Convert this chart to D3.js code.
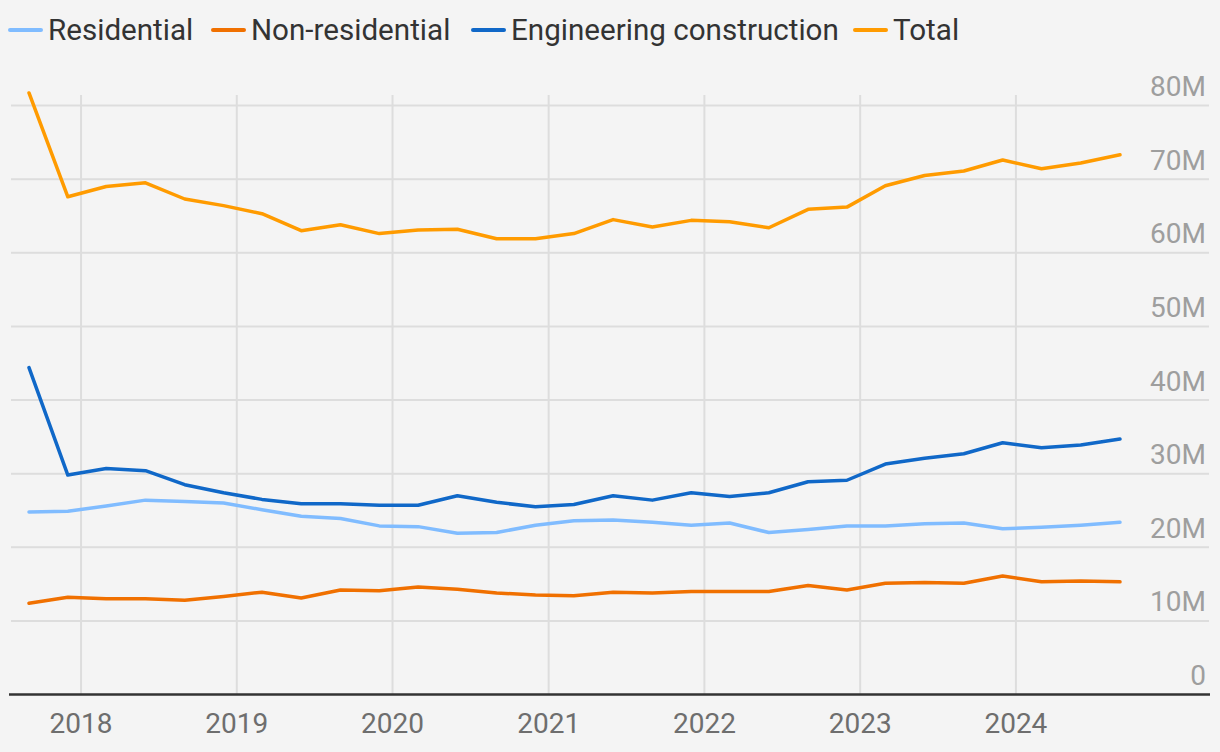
<!DOCTYPE html>
<html>
<head>
<meta charset="utf-8">
<script src="https://cdn.jsdelivr.net/npm/d3@7"></script>
<style>
  html, body { margin: 0; padding: 0; background: #f4f4f4; }
  svg { display: block; font-family: Roboto, "Noto Sans", sans-serif; }
</style>
</head>
<body>
<svg id="chart" width="1220" height="752"></svg>
<script>
// ---- data ----
const periods = ["2017-09","2017-12","2018-03","2018-06","2018-09","2018-12","2019-03","2019-06","2019-09","2019-12",
  "2020-03","2020-06","2020-09","2020-12","2021-03","2021-06","2021-09","2021-12","2022-03","2022-06",
  "2022-09","2022-12","2023-03","2023-06","2023-09","2023-12","2024-03","2024-06","2024-09"];
const residential = [24.8,24.9,25.6,26.4,26.2,26.0,25.1,24.2,23.9,22.9,22.8,21.9,22.0,23.0,23.6,23.7,23.4,23.0,23.3,22.0,
  22.4,22.9,22.9,23.2,23.3,22.5,22.7,23.0,23.4];
const nonResidential = [12.4,13.2,13.0,13.0,12.8,13.3,13.9,13.1,14.2,14.1,14.6,14.3,13.8,13.5,13.4,13.9,13.8,14.0,14.0,14.0,
  14.8,14.2,15.1,15.2,15.1,16.1,15.3,15.4,15.3];
const engineering = [44.4,29.8,30.7,30.4,28.5,27.4,26.5,25.9,25.9,25.7,25.7,27.0,26.1,25.5,25.8,27.0,26.4,27.4,26.9,27.4,
  28.9,29.1,31.3,32.1,32.7,34.2,33.5,33.9,34.7];
const total = [81.7,67.6,69.0,69.5,67.3,66.4,65.3,63.0,63.8,62.6,63.1,63.2,61.9,61.9,62.6,64.5,63.5,64.4,64.2,63.4,
  65.9,66.2,69.1,70.5,71.1,72.6,71.4,72.2,73.3];
const seriesNames = ["Residential","Non-residential","Engineering construction","Total"];
const seriesColors = ["#80bcff","#f07000","#1068c8","#ff9b00"];
const yTicks = [0,10,20,30,40,50,60,70,80];
const yTickLabels = ["0","10M","20M","30M","40M","50M","60M","70M","80M"];
const xTickYears = ["2018","2019","2020","2021","2022","2023","2024"];

// ---- chart ----
const svg = d3.select("#chart");
const parse = d3.timeParse("%Y-%m");
const dates = periods.map(parse);
const x = d3.scaleTime().domain([dates[0], dates[dates.length-1]]).range([29, 1120]);
const y = d3.scaleLinear().domain([0, 80]).range([694.5, 105.5]);
const FONT = 28;
const LEGEND_FONT = 29.6;

// horizontal gridlines
svg.append("g").selectAll("line").data(yTicks.filter(d => d > 0)).join("line")
  .attr("x1", 11).attr("x2", 1209)
  .attr("y1", d => y(d)).attr("y2", d => y(d))
  .attr("stroke", "#dddddd").attr("stroke-width", 2);

// vertical gridlines
const yearDates = xTickYears.map(s => d3.timeParse("%Y")(s));
svg.append("g").selectAll("line").data(yearDates).join("line")
  .attr("x1", d => x(d)).attr("x2", d => x(d))
  .attr("y1", 95).attr("y2", 694)
  .attr("stroke", "#dddddd").attr("stroke-width", 2);

// y labels
svg.append("g").selectAll("text").data(yTicks).join("text")
  .attr("x", 1206).attr("y", d => y(d) - 9.5)
  .attr("text-anchor", "end")
  .attr("fill", "#9e9e9e").attr("font-size", FONT)
  .text((d, i) => yTickLabels[i]);

// x labels
svg.append("g").selectAll("text").data(yearDates).join("text")
  .attr("x", d => x(d)).attr("y", 733)
  .attr("text-anchor", "middle")
  .attr("fill", "#6e6e6e").attr("font-size", FONT)
  .text((d, i) => xTickYears[i]);

// baseline
svg.append("line").attr("x1", 9).attr("x2", 1210)
  .attr("y1", y(0)).attr("y2", y(0))
  .attr("stroke", "#333333").attr("stroke-width", 2.5);

// lines
const allSeries = [residential, nonResidential, engineering, total];
const line = d3.line().x((d, i) => x(dates[i])).y(d => y(d));
svg.append("g").selectAll("path").data(allSeries).join("path")
  .attr("d", d => line(d))
  .attr("fill", "none")
  .attr("stroke", (d, i) => seriesColors[i])
  .attr("stroke-width", 3.5)
  .attr("stroke-linejoin", "round")
  .attr("stroke-linecap", "round");

// legend
const legendX = [10, 213, 473, 855];
const lg = svg.append("g");
seriesNames.forEach((name, i) => {
  lg.append("line").attr("x1", legendX[i]).attr("x2", legendX[i] + 31)
    .attr("y1", 30).attr("y2", 30)
    .attr("stroke", seriesColors[i]).attr("stroke-width", 4).attr("stroke-linecap", "round");
  lg.append("text").attr("x", legendX[i] + 38).attr("y", 40)
    .attr("fill", "#333333").attr("font-size", LEGEND_FONT)
    .text(name);
});
</script>
</body>
</html>
